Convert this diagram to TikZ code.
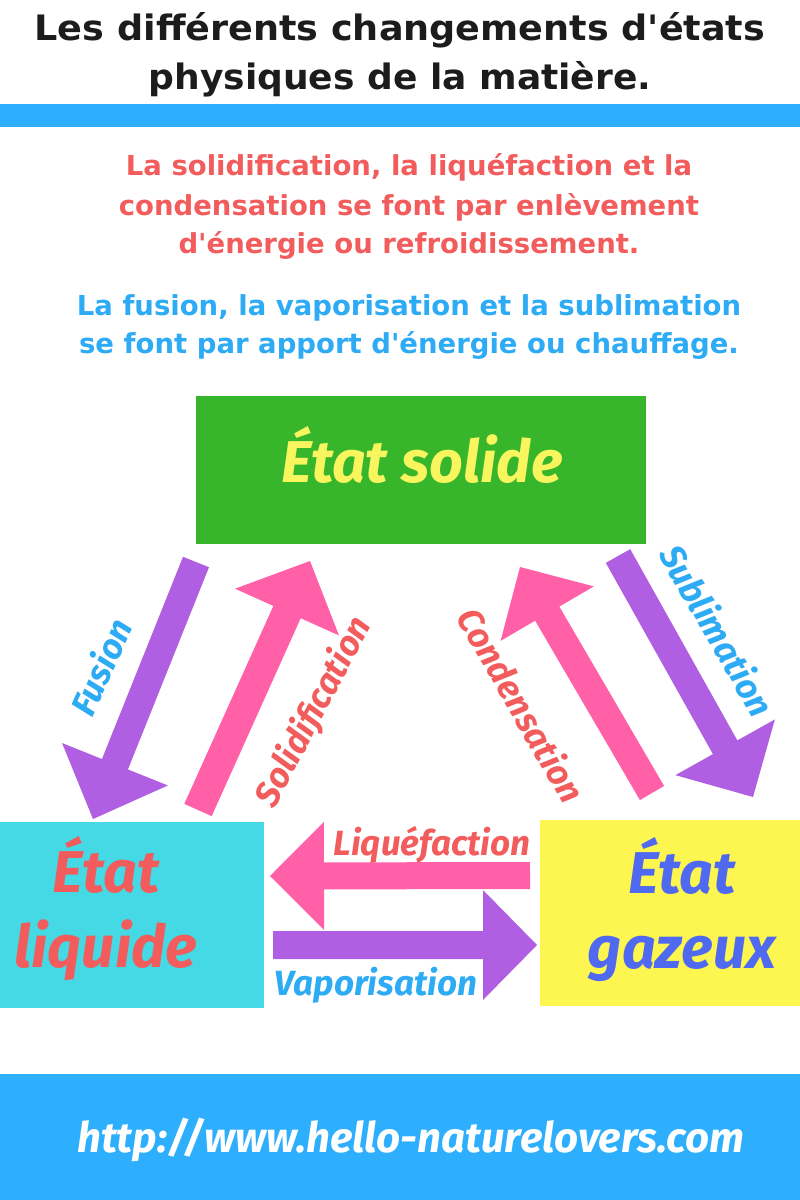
\documentclass[tikz,border=0pt]{standalone}
\usepackage{fontspec}
\setmainfont{DejaVu Sans}[Ligatures=TeXOff]
\newfontfamily\casual{Fira Sans}
\usetikzlibrary{calc}
\definecolor{bandblue}{HTML}{2EAFFD}
\definecolor{redtxt}{HTML}{F25C5C}
\definecolor{bluetxt}{HTML}{2EABF5}
\definecolor{solgreen}{HTML}{38B62B}
\definecolor{liqcyan}{HTML}{45D8E5}
\definecolor{gazyellow}{HTML}{FDF550}
\definecolor{gazblue}{HTML}{4F6AF0}
\definecolor{soltxt}{HTML}{F8F55E}
\definecolor{purp}{HTML}{B05EE2}
\definecolor{pinkarr}{HTML}{FF60A8}
\definecolor{titleblack}{HTML}{1C1C1C}
\newcommand\fatarrow[6]{%
  \coordinate (hb) at ($(#2)!#5!(#1)$);
  \fill[#6] ($(#1)!#3!90:(#2)$) -- ($(hb)!#3!-90:(#1)$) -- ($(hb)!#4!-90:(#1)$) -- (#2)
    -- ($(hb)!#4!90:(#1)$) -- ($(hb)!#3!90:(#1)$) -- ($(#1)!#3!-90:(#2)$) -- cycle;}
\tikzset{
  titletxt/.style={anchor=base, inner sep=0pt, text=titleblack, font=\fontsize{35}{40}\selectfont\bfseries},
  bodytxt/.style={anchor=base, inner sep=0pt, font=\fontsize{27.5}{32}\selectfont\bfseries},
  statebox/.style={draw=none, inner sep=0pt, anchor=north west},
  statetxt/.style={anchor=base, inner sep=0pt, font=\fontsize{59}{60}\casual\bfseries\itshape},
  arrlabel/.style={inner sep=0pt, font=\fontsize{35}{40}\casual\bfseries\itshape}
}
\begin{document}
\begin{tikzpicture}[x=1pt,y=-1pt]
\useasboundingbox (0,0) rectangle (800,1200);
\fill[white] (0,0) rectangle (800,1200);
% bands
\fill[bandblue] (0,104) rectangle (800,127);
\node[statebox, fill=bandblue, minimum width=800pt, minimum height=126pt] (footer) at (0,1074) {};
% title
\node[titletxt] (t1) at (400,40) {\scalebox{1.045}[1]{Les différents changements d'états}};
\node[titletxt] (t2) at (400,89) {\scalebox{1.03}[1]{physiques de la matière.}};
% explanatory text
\node[bodytxt, text=redtxt] (r1) at (409,175) {La solidification, la liquéfaction et la};
\node[bodytxt, text=redtxt] (r2) at (409,215) {condensation se font par enlèvement};
\node[bodytxt, text=redtxt] (r3) at (409,253) {d'énergie ou refroidissement.};
\node[bodytxt, text=bluetxt] (b1) at (409,315) {La fusion, la vaporisation et la sublimation};
\node[bodytxt, text=bluetxt] (b2) at (409,353) {se font par apport d'énergie ou chauffage.};
% state boxes
\node[statebox, fill=solgreen, minimum width=450pt, minimum height=148pt] (solid) at (196,396) {};
\node[statebox, fill=liqcyan, minimum width=264pt, minimum height=186pt] (liquid) at (0,822) {};
\node[statebox, fill=gazyellow, minimum width=260pt, minimum height=186pt] (gas) at (540,820) {};
\node[statetxt, text=soltxt] (soltext) at (422,482) {État solide};
\node[statetxt, text=redtxt] (liqtext1) at (106,892) {État};
\node[statetxt, text=redtxt] (liqtext2) at (106,967) {liquide};
\node[statetxt, text=gazblue] (gastext1) at (682,893) {État};
\node[statetxt, text=gazblue] (gastext2) at (682,968) {gazeux};
% arrow end points
\coordinate (fusT) at (196,562);  \coordinate (fusP) at (93,819);
\coordinate (solT) at (198,810);  \coordinate (solP) at (310,561);
\coordinate (conT) at (652,793);  \coordinate (conP) at (520,567);
\coordinate (subT) at (618,556);  \coordinate (subP) at (753,797);
\coordinate (liqT) at (530,875.5);\coordinate (liqP) at (270,876);
\coordinate (vapT) at (273,945);  \coordinate (vapP) at (537,945);
\fatarrow{fusT}{fusP}{14pt}{57pt}{59pt}{purp}
\fatarrow{solT}{solP}{15pt}{57pt}{56pt}{pinkarr}
\fatarrow{conT}{conP}{14pt}{54pt}{54pt}{pinkarr}
\fatarrow{subT}{subP}{14pt}{57pt}{57pt}{purp}
\fatarrow{liqT}{liqP}{13.5pt}{54pt}{54pt}{pinkarr}
\fatarrow{vapT}{vapP}{14pt}{55pt}{54pt}{purp}
% arrow labels
\node[arrlabel, text=bluetxt, rotate=66] (fuslab) at (100,667) {Fusion};
\node[arrlabel, text=redtxt, rotate=62] (sollab) at (314,712) {Solidification};
\node[arrlabel, text=redtxt, rotate=-60] (conlab) at (522,705) {Condensation};
\node[arrlabel, text=bluetxt, rotate=-60] (sublab) at (718,630) {Sublimation};
\node[arrlabel, text=redtxt, anchor=base] (liqlab) at (432,855) {Liquéfaction};
\node[arrlabel, text=bluetxt, anchor=base] (vaplab) at (376,995) {Vaporisation};
% footer url
\node[anchor=base, inner sep=0pt, text=white, font=\fontsize{42}{46}\casual\bfseries\itshape] (url) at (411,1152) {http://www.hello-naturelovers.com};
\end{tikzpicture}
\end{document}
